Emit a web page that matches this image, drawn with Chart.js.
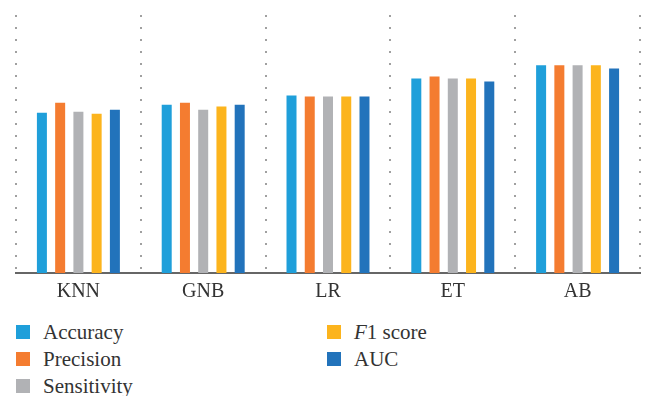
<!DOCTYPE html>
<html>
<head>
<meta charset="utf-8">
<script src="https://cdn.jsdelivr.net/npm/chart.js@4.4.0/dist/chart.umd.min.js"></script>
<style>
    html, body { margin: 0; padding: 0; background: #fff; }
    #wrap { position: relative; width: 645px; height: 396px; overflow: hidden; }
    #chart { position: absolute; left: 0; top: 0; }
    .legend-item {
        position: absolute;
        font-family: 'Liberation Serif', 'Times New Roman', serif;
        font-size: 21px;
        color: #333;
        line-height: 20px;
        white-space: nowrap;
    }
    .legend-item span.box {
        position: absolute;
        left: 0; top: 3px;
        width: 14px; height: 14px;
    }
    .legend-item span.text { position: absolute; left: 27px; top: 0; }
</style>
</head>
<body>
<div id="wrap">
    <canvas id="chart" width="645" height="312"></canvas>
    <div id="legend"></div>
</div>
<script>
const categories = ['KNN', 'GNB', 'LR', 'ET', 'AB'];
const seriesNames = ['Accuracy', 'Precision', 'Sensitivity', 'F1 score', 'AUC'];
const seriesColors = ['#1f9fda', '#f47c30', '#b1b2b5', '#fcb41d', '#2273bb'];

const accuracy    = [0.621, 0.652, 0.688, 0.754, 0.805];
const precision   = [0.660, 0.660, 0.684, 0.762, 0.805];
const sensitivity = [0.625, 0.633, 0.684, 0.754, 0.805];
const f1Score     = [0.617, 0.645, 0.684, 0.754, 0.805];
const auc         = [0.633, 0.652, 0.684, 0.742, 0.793];

const seriesValues = [accuracy, precision, sensitivity, f1Score, auc];

const datasets = seriesNames.map((name, i) => ({
    label: name,
    data: seriesValues[i],
    backgroundColor: seriesColors[i],
    borderWidth: 0,
    categoryPercentage: 0.731,
    barPercentage: 0.548
}));

new Chart(document.getElementById('chart'), {
    type: 'bar',
    data: { labels: categories, datasets },
    options: {
        responsive: false,
        animation: false,
        layout: { padding: { left: 16, right: 5, top: 15, bottom: 1 } },
        plugins: {
            legend: { display: false },
            tooltip: { enabled: false }
        },
        scales: {
            y: {
                display: false,
                min: 0,
                max: 1
            },
            x: {
                // dotted separators between groups (v4 puts the dash under border)
                grid: {
                    color: '#a0a0a0',
                    lineWidth: 2,
                    drawTicks: false,
                    offset: true
                },
                border: { display: true, color: '#666', width: 2, dash: [2, 10] },
                ticks: {
                    color: '#333',
                    padding: 7,
                    font: { family: "'Liberation Serif', 'Times New Roman', serif", size: 20 }
                }
            }
        }
    }
});

// legend below the chart, filled column by column
const legend = document.getElementById('legend');
const colLeft = [16, 327];
const rowTop = [322, 349, 376];
seriesNames.forEach((name, i) => {
    const col = Math.floor(i / 3);
    const row = i % 3;
    const item = document.createElement('div');
    item.className = 'legend-item';
    item.style.left = colLeft[col] + 'px';
    item.style.top = rowTop[row] + 'px';
    const box = document.createElement('span');
    box.className = 'box';
    box.style.background = seriesColors[i];
    const text = document.createElement('span');
    text.className = 'text';
    if (name.startsWith('F1')) {
        const it = document.createElement('i');
        it.textContent = 'F';
        text.appendChild(it);
        text.appendChild(document.createTextNode(name.slice(1)));
    } else {
        text.textContent = name;
    }
    item.appendChild(box);
    item.appendChild(text);
    legend.appendChild(item);
});
</script>
</body>
</html>
